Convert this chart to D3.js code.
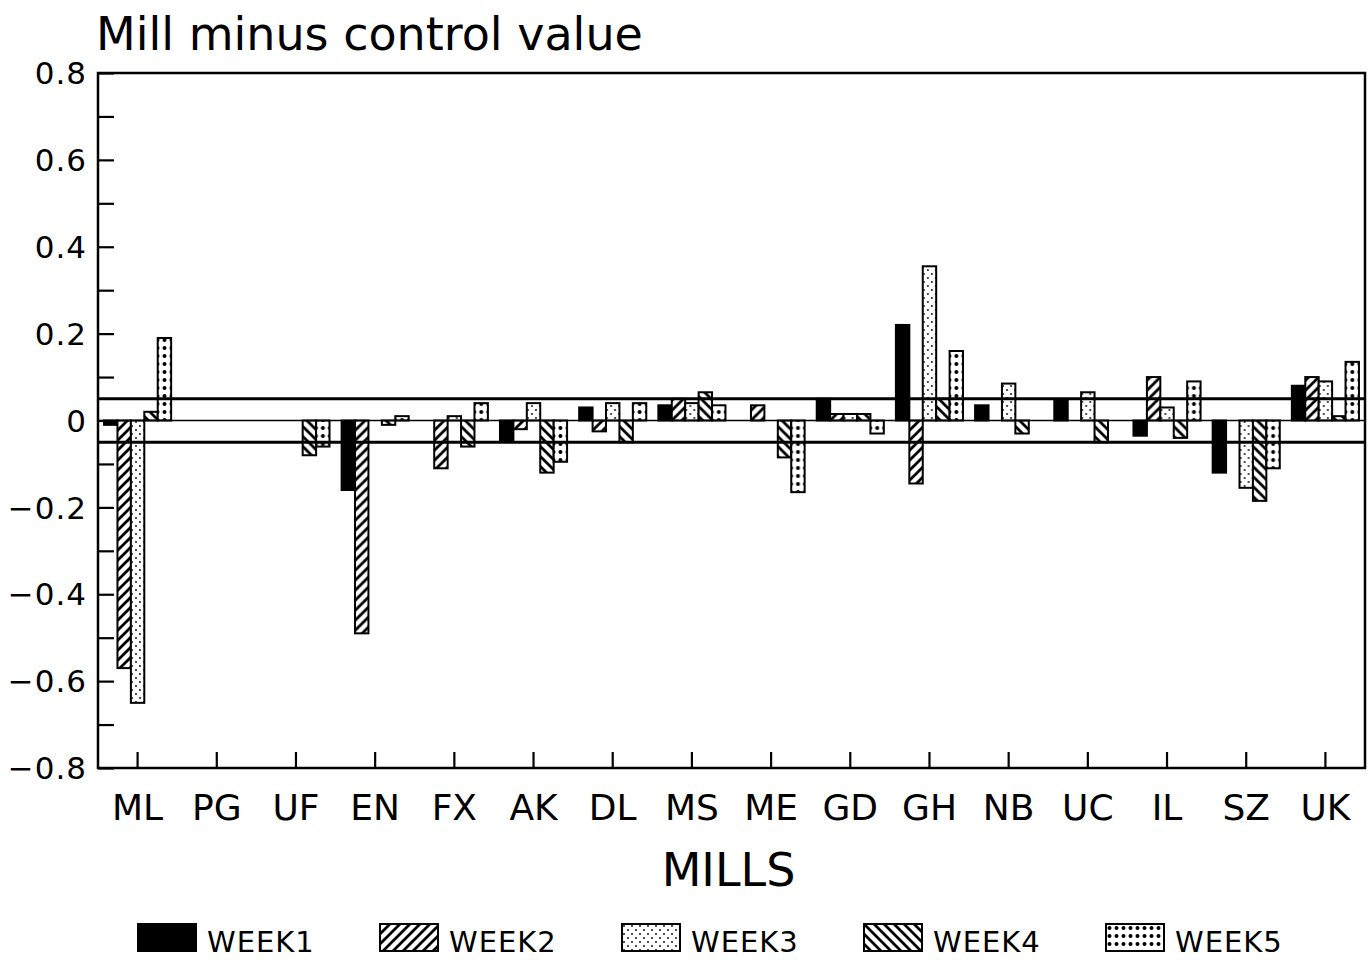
<!DOCTYPE html>
<html>
<head>
<meta charset="utf-8">
<title>Mill minus control value</title>
<script src="https://cdn.jsdelivr.net/npm/d3@7"></script>
<style>
  html, body { margin: 0; padding: 0; background: #fff; }
  svg { display: block; font-family: "DejaVu Sans", "Liberation Sans", sans-serif; }
</style>
</head>
<body>
<div id="chart"></div>
<script>
// Mills along the x axis
const mills = ['ML', 'PG', 'UF', 'EN', 'FX', 'AK', 'DL', 'MS', 'ME', 'GD', 'GH', 'NB', 'UC', 'IL', 'SZ', 'UK'];
const weeks = ['WEEK1', 'WEEK2', 'WEEK3', 'WEEK4', 'WEEK5'];

// Mill minus control value, one array per week
const week1 = [-0.01, 0, 0, -0.16, 0, -0.045, 0.03, 0.035, 0, 0.05, 0.22, 0.035, 0.045, -0.035, -0.12, 0.08];
const week2 = [-0.57, 0, 0, -0.49, -0.11, -0.02, -0.025, 0.05, 0.035, 0.015, -0.145, 0, 0, 0.10, 0, 0.10];
const week3 = [-0.65, 0, 0, 0, 0.01, 0.04, 0.04, 0.04, 0, 0.015, 0.355, 0.085, 0.065, 0.03, -0.155, 0.09];
const week4 = [0.02, 0, -0.08, -0.01, -0.06, -0.12, -0.05, 0.065, -0.085, 0.015, 0.05, -0.03, -0.05, -0.04, -0.185, 0.01];
const week5 = [0.19, 0, -0.06, 0.01, 0.04, -0.095, 0.04, 0.035, -0.165, -0.03, 0.16, 0, 0, 0.09, -0.11, 0.135];

// Y axis ticks and the +/- 0.05 reference band
const yTickLabels = [0.8, 0.6, 0.4, 0.2, 0, -0.2, -0.4, -0.6, -0.8];
const yMinorTicks = d3.range(-8, 9).map(d => d / 10);
const bandLines = [0.05, -0.05];

const series = [week1, week2, week3, week4, week5];

const width = 1368;
const height = 960;
const plot = { left: 98, right: 1365, top: 73, bottom: 768 };

const svg = d3.select('#chart')
    .append('svg')
    .attr('width', width)
    .attr('height', height);

// Fill patterns that mimic the plotter shading
const defs = svg.append('defs');

const hatchUp = defs.append('pattern')
    .attr('id', 'hatch-up')
    .attr('patternUnits', 'userSpaceOnUse')
    .attr('width', 10).attr('height', 10);
hatchUp.append('rect').attr('width', 10).attr('height', 10).attr('fill', '#fff');
hatchUp.append('path')
    .attr('d', 'M-3,3 L3,-3 M0,10 L10,0 M7,13 L13,7')
    .attr('stroke', '#000').attr('stroke-width', 2.8);

const hatchDown = defs.append('pattern')
    .attr('id', 'hatch-down')
    .attr('patternUnits', 'userSpaceOnUse')
    .attr('width', 10).attr('height', 10);
hatchDown.append('rect').attr('width', 10).attr('height', 10).attr('fill', '#fff');
hatchDown.append('path')
    .attr('d', 'M-3,7 L3,13 M0,0 L10,10 M7,-3 L13,3')
    .attr('stroke', '#000').attr('stroke-width', 2.8);

const fineDots = defs.append('pattern')
    .attr('id', 'fine-dots')
    .attr('patternUnits', 'userSpaceOnUse')
    .attr('width', 8).attr('height', 8);
fineDots.append('rect').attr('width', 8).attr('height', 8).attr('fill', '#fff');
fineDots.append('circle').attr('cx', 2).attr('cy', 2).attr('r', 0.9).attr('fill', '#000');
fineDots.append('circle').attr('cx', 6).attr('cy', 6).attr('r', 0.9).attr('fill', '#000');

const bigDots = defs.append('pattern')
    .attr('id', 'big-dots')
    .attr('patternUnits', 'userSpaceOnUse')
    .attr('width', 7).attr('height', 8);
bigDots.append('rect').attr('width', 7).attr('height', 8).attr('fill', '#fff');
bigDots.append('circle').attr('cx', 3.5).attr('cy', 4).attr('r', 2).attr('fill', '#000');

const fills = ['#000', 'url(#hatch-up)', 'url(#fine-dots)', 'url(#hatch-down)', 'url(#big-dots)'];

// Scales
const x = d3.scaleBand()
    .domain(mills)
    .range([plot.left, plot.right]);

const x1 = d3.scaleBand()
    .domain(weeks)
    .range([0, x.bandwidth()])
    .paddingInner(0)
    .paddingOuter(0.45);

const y = d3.scaleLinear()
    .domain([-0.8, 0.8])
    .range([plot.bottom, plot.top]);

// Title
svg.append('text')
    .attr('x', 96)
    .attr('y', 50)
    .attr('font-size', 46)
    .attr('fill', '#000')
    .text('Mill minus control value');

// Frame
svg.append('rect')
    .attr('x', plot.left)
    .attr('y', plot.top)
    .attr('width', plot.right - plot.left)
    .attr('height', plot.bottom - plot.top)
    .attr('fill', 'none')
    .attr('stroke', '#000')
    .attr('stroke-width', 2.5);

// Y axis: inward ticks every 0.1, labels every 0.2
const yAxis = svg.append('g')
    .attr('transform', `translate(${plot.left},0)`)
    .call(d3.axisRight(y)
        .tickValues(yMinorTicks)
        .tickSize(16)
        .tickFormat(''));
yAxis.select('.domain').remove();
yAxis.selectAll('line').attr('stroke', '#000').attr('stroke-width', 2.2);

svg.append('g')
    .selectAll('text')
    .data(yTickLabels)
    .join('text')
    .attr('x', 87)
    .attr('y', d => y(d))
    .attr('dy', '0.36em')
    .attr('text-anchor', 'end')
    .attr('font-size', 31)
    .attr('letter-spacing', 1)
    .attr('fill', '#000')
    .text(d => d === 0 ? '0' : d3.format('.1f')(d));

// X axis: inward ticks at each mill, labels below
const xAxis = svg.append('g')
    .attr('transform', `translate(0,${plot.bottom})`)
    .call(d3.axisTop(x)
        .tickSize(16)
        .tickFormat(''));
xAxis.select('.domain').remove();
xAxis.selectAll('line').attr('stroke', '#000').attr('stroke-width', 2.2);

svg.append('g')
    .selectAll('text')
    .data(mills)
    .join('text')
    .attr('x', d => x(d) + x.bandwidth() / 2)
    .attr('y', 820)
    .attr('text-anchor', 'middle')
    .attr('font-size', 36)
    .attr('fill', '#000')
    .text(d => d);

svg.append('text')
    .attr('x', (plot.left + plot.right) / 2 - 3)
    .attr('y', 886)
    .attr('text-anchor', 'middle')
    .attr('font-size', 46)
    .attr('fill', '#000')
    .text('MILLS');

// Bars
const bars = svg.append('g');
mills.forEach((mill, i) => {
    const g = bars.append('g')
        .attr('transform', `translate(${x(mill)},0)`);
    g.selectAll('rect')
        .data(weeks.map((w, k) => ({ week: w, k: k, value: series[k][i] })).filter(d => d.value !== 0))
        .join('rect')
        .attr('x', d => x1(d.week))
        .attr('y', d => y(Math.max(0, d.value)))
        .attr('width', x1.bandwidth())
        .attr('height', d => Math.abs(y(d.value) - y(0)))
        .attr('fill', d => fills[d.k])
        .attr('stroke', '#000')
        .attr('stroke-width', 2);
});

// Zero line and the +/- 0.05 band
svg.append('line')
    .attr('x1', plot.left).attr('x2', plot.right)
    .attr('y1', y(0)).attr('y2', y(0))
    .attr('stroke', '#000')
    .attr('stroke-width', 1.6);

svg.append('g')
    .selectAll('line')
    .data(bandLines)
    .join('line')
    .attr('x1', plot.left).attr('x2', plot.right)
    .attr('y1', d => y(d)).attr('y2', d => y(d))
    .attr('stroke', '#000')
    .attr('stroke-width', 3);

// Legend
const legend = svg.append('g')
    .attr('transform', 'translate(138, 924)');

const item = legend.selectAll('g')
    .data(weeks)
    .join('g')
    .attr('transform', (d, i) => `translate(${i * 242},0)`);

item.append('rect')
    .attr('width', 58)
    .attr('height', 27)
    .attr('fill', (d, i) => fills[i])
    .attr('stroke', '#000')
    .attr('stroke-width', 2);

item.append('text')
    .attr('x', 69)
    .attr('y', 28)
    .attr('font-size', 29)
    .attr('letter-spacing', 1)
    .attr('fill', '#000')
    .text(d => d);
</script>
</body>
</html>
